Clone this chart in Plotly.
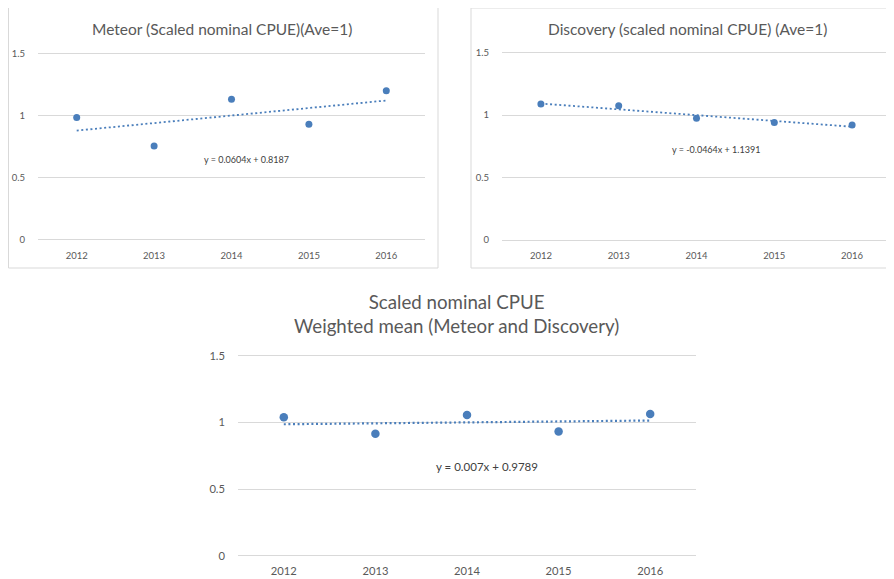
import plotly.graph_objects as go

# page offset of the plot div (browser default body margin)
OFF = 8
W, H = 894 - OFF, 579 - OFF

years = [2012, 2013, 2014, 2015, 2016]
meteor = [0.985, 0.755, 1.13, 0.93, 1.20]
discovery = [1.09, 1.075, 0.975, 0.94, 0.92]
weighted = [1.038, 0.915, 1.056, 0.932, 1.063]

# Excel trendline coefficients as shown on the chart (x = 1..5)
trend_slope = [0.0604, -0.0464, 0.007]
trend_intercept = [0.8187, 1.1391, 0.9789]
trend_labels = ["y = 0.0604x + 0.8187", "y = -0.0464x + 1.1391", "y = 0.007x + 0.9789"]

titles = ["Meteor (Scaled nominal CPUE)(Ave=1)",
          "Discovery (scaled nominal CPUE) (Ave=1)",
          "Scaled nominal CPUE<br>Weighted mean (Meteor and Discovery)"]
series = [meteor, discovery, weighted]
yticks = [0, 0.5, 1, 1.5]
ytext = ["0", "0.5", "1", "1.5"]

BLUE = "#4a7ebb"
GRID = "#d9d9d9"
TXT = "#595959"
FONT = "Lato, Carlito, Calibri, sans-serif"

def px_x(x):
    return (x - OFF) / W

def px_y(y):
    return 1 - (y - OFF) / H

# panel geometry in page pixels: (x0, x1, y of 0, y of 1.5)
panels = [
    (38, 425, 240, 53.3),
    (502, 891, 240, 52.7),
    (238, 696, 555.7, 355.7),
]
tick_sizes = [9.5, 9.5, 11.2]
marker_sizes = [7, 7, 8.5]
line_widths = [1.8, 1.8, 2.2]
label_sizes = [9, 9, 11.5]
label_pos = [(247, 160), (716, 150), (487, 466)]
title_pos = [(222, 29), (687, 29), (456, 314)]
title_sizes = [15.5, 15.5, 18.7]
xstandoff = [7, 7, 6]
PAD = 0.01  # small range padding so the 0 and 1.5 gridlines are drawn

fig = go.Figure()
layout = dict(width=W, height=H, margin=dict(l=0, r=0, t=0, b=0, autoexpand=False),
              paper_bgcolor="white", plot_bgcolor="white", showlegend=False,
              font=dict(family=FONT, color=TXT), template="none")
annotations = []
shapes = []

for i in range(3):
    xa = "x" if i == 0 else f"x{i+1}"
    ya = "y" if i == 0 else f"y{i+1}"
    xk = "xaxis" if i == 0 else f"xaxis{i+1}"
    yk = "yaxis" if i == 0 else f"yaxis{i+1}"
    x0, x1, yb, yt = panels[i]
    ppu = (yb - yt) / 1.5
    tx = [years[0], years[-1]]
    ty = [trend_intercept[i] + trend_slope[i] * 1,
          trend_intercept[i] + trend_slope[i] * len(years)]
    fig.add_trace(go.Scatter(x=tx, y=ty, mode="lines", xaxis=xa, yaxis=ya,
                             line=dict(color=BLUE, width=line_widths[i], dash="2px,2.6px"),
                             hoverinfo="skip"))
    fig.add_trace(go.Scatter(x=years, y=series[i], mode="markers", xaxis=xa, yaxis=ya,
                             marker=dict(color=BLUE, size=marker_sizes[i], line=dict(width=0))))
    layout[xk] = dict(domain=[px_x(x0), px_x(x1)], range=[2011.5, 2016.5],
                      tickvals=years, ticktext=[str(y) for y in years],
                      showgrid=False, zeroline=False, showline=False, ticks="",
                      tickfont=dict(size=tick_sizes[i], color=TXT, family=FONT),
                      anchor=ya, fixedrange=True, automargin=False,
                      ticklabelstandoff=xstandoff[i])
    layout[yk] = dict(domain=[px_y(yb + PAD * ppu), px_y(yt - PAD * ppu)],
                      range=[-PAD, 1.5 + PAD],
                      tickvals=yticks, ticktext=ytext,
                      showgrid=True, gridcolor=GRID, gridwidth=1, zeroline=False,
                      showline=False, ticks="",
                      tickfont=dict(size=tick_sizes[i], color=TXT, family=FONT),
                      anchor=xa, fixedrange=True, automargin=False, ticklabelstandoff=12)
    lx, ly = label_pos[i]
    annotations.append(dict(text=trend_labels[i], x=px_x(lx), y=px_y(ly),
                            xref="paper", yref="paper", showarrow=False,
                            xanchor="center", yanchor="middle",
                            font=dict(size=label_sizes[i], color="#404040", family=FONT)))
    tx_, ty_ = title_pos[i]
    annotations.append(dict(text=titles[i], x=px_x(tx_), y=px_y(ty_),
                            xref="paper", yref="paper", showarrow=False,
                            xanchor="center", yanchor="middle",
                            font=dict(size=title_sizes[i], color=TXT, family=FONT)))

# chart-area borders of the two upper charts
for (bx0, by0, bx1, by1) in [(8.5, 7, 438, 268), (471, 8, 900, 268)]:
    shapes.append(dict(type="rect", xref="paper", yref="paper",
                       x0=px_x(bx0), x1=px_x(bx1), y0=px_y(by1), y1=px_y(by0),
                       line=dict(color=GRID, width=1), fillcolor="rgba(0,0,0,0)"))

layout["annotations"] = annotations
layout["shapes"] = shapes
fig.update_layout(**layout)
fig.write_html("out.html")
